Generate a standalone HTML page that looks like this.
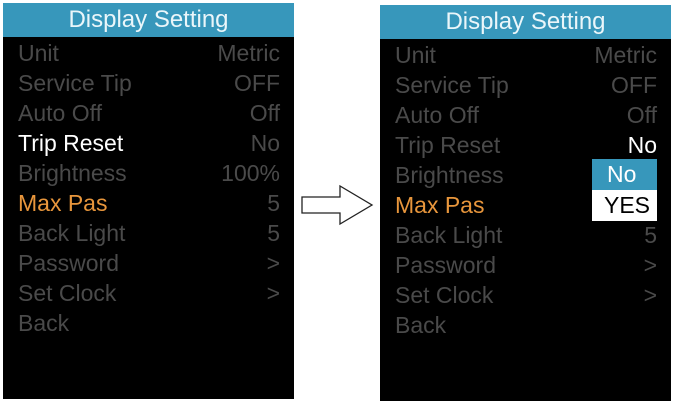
<!DOCTYPE html>
<html><head><style>
body{margin:0;width:676px;height:405px;background:#fff;position:relative;overflow:hidden;font-family:"Liberation Sans",sans-serif}
.p{position:absolute;background:#000}
.h{position:absolute;left:0;right:0;top:0;height:34px;background:#3797bb;color:#eaf6fa;font-size:24px;text-align:center;line-height:34px}
.r{position:absolute;left:15px;right:14px;height:30px;font-size:23px;color:#4a4a4a;line-height:30px}
.r span{position:absolute;right:0}
.w{color:#fff}.o{color:#e8963c}
</style></head><body>
<div class="p" style="left:3px;top:3px;width:291px;height:396px">
<div class="h">Display Setting</div>
<div class="r" style="top:35px">Unit<span>Metric</span></div>
<div class="r" style="top:65px">Service Tip<span>OFF</span></div>
<div class="r" style="top:95px">Auto Off<span>Off</span></div>
<div class="r w" style="top:125px">Trip Reset<span style="color:#4a4a4a">No</span></div>
<div class="r" style="top:155px">Brightness<span>100%</span></div>
<div class="r o" style="top:185px">Max Pas<span style="color:#4a4a4a">5</span></div>
<div class="r" style="top:215px">Back Light<span>5</span></div>
<div class="r" style="top:245px">Password<span>&gt;</span></div>
<div class="r" style="top:275px">Set Clock<span>&gt;</span></div>
<div class="r" style="top:305px">Back</div>
</div>
<svg style="position:absolute;left:0;top:0" width="676" height="405"><polygon points="302,197 340,197 340,186 372,205 340,224 340,213 302,213" fill="#fff" stroke="#222" stroke-width="1.3"/></svg>
<div class="p" style="left:380px;top:5px;width:291px;height:396px">
<div class="h">Display Setting</div>
<div class="r" style="top:35px">Unit<span>Metric</span></div>
<div class="r" style="top:65px">Service Tip<span>OFF</span></div>
<div class="r" style="top:95px">Auto Off<span>Off</span></div>
<div class="r" style="top:125px">Trip Reset<span class="w">No</span></div>
<div class="r" style="top:155px">Brightness</div>
<div class="r o" style="top:185px">Max Pas</div>
<div class="r" style="top:215px">Back Light<span>5</span></div>
<div class="r" style="top:245px">Password<span>&gt;</span></div>
<div class="r" style="top:275px">Set Clock<span>&gt;</span></div>
<div class="r" style="top:305px">Back</div>
<div style="position:absolute;left:212px;top:154px;width:65px;height:31px;background:#3797bb;color:#fff;font-size:23px;line-height:31px;padding-left:15px;box-sizing:border-box">No</div>
<div style="position:absolute;left:212px;top:185px;width:65px;height:31px;background:#fff;color:#000;font-size:23px;line-height:31px;padding-left:12px;box-sizing:border-box">YES</div>
</div>
</body></html>
